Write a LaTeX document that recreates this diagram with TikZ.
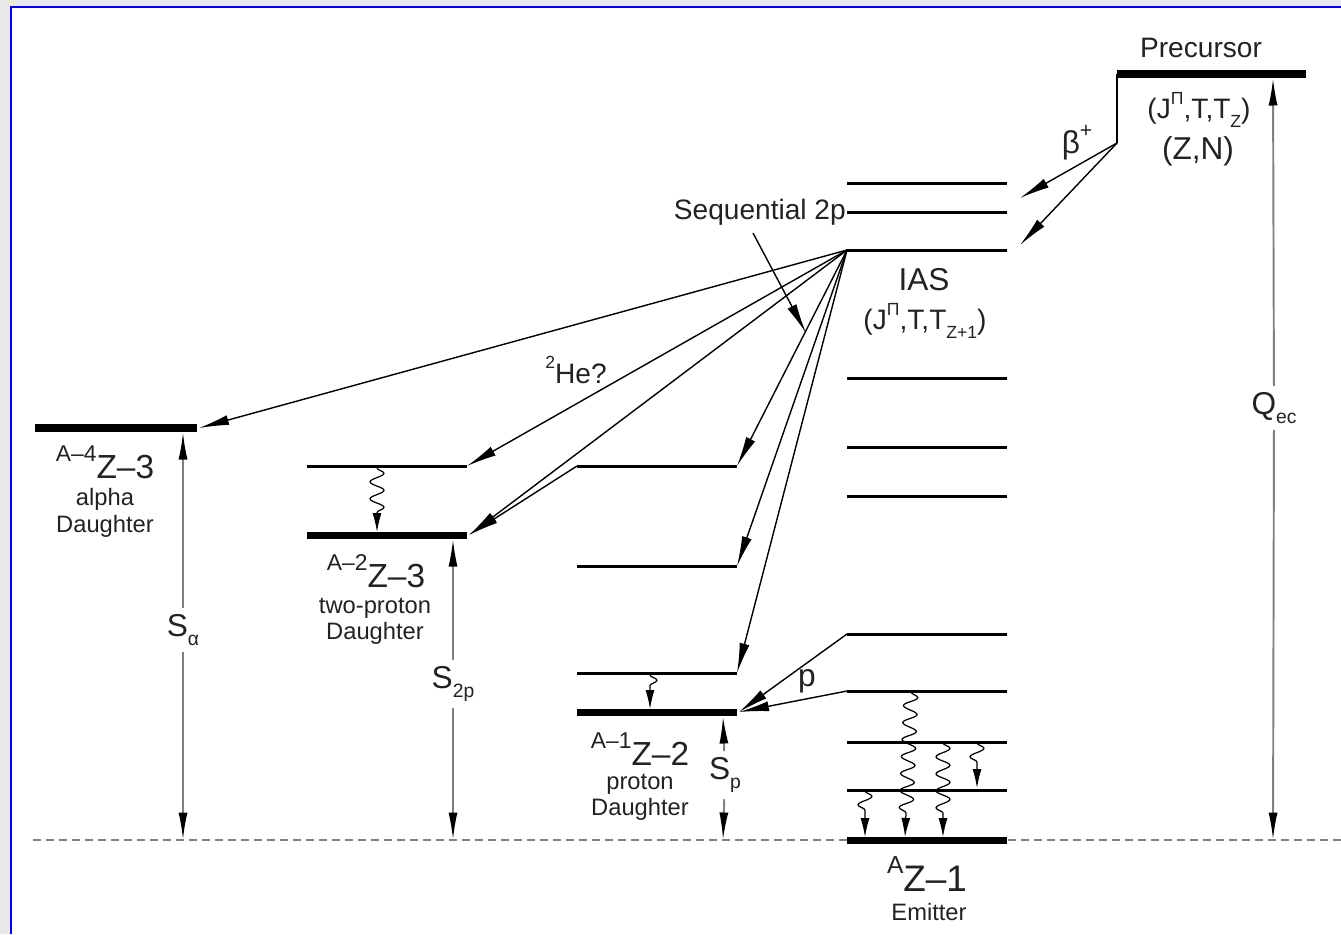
\documentclass[tikz,border=0pt]{standalone}
\usepackage{fontspec}
\setmainfont{Liberation Sans}
\usetikzlibrary{arrows.meta,decorations.pathmorphing}
\definecolor{framebg}{HTML}{E8E8E8}
\definecolor{frameblue}{HTML}{0000EE}
\definecolor{sepgray}{HTML}{808080}
\definecolor{inkgray}{HTML}{222222}
\newcommand{\nsup}[2][11]{\raisebox{0.5em}{\fontsize{#1}{#1}\selectfont #2}}
\newcommand{\nsub}[2][11]{\raisebox{-0.3em}{\fontsize{#1}{#1}\selectfont #2}}
\tikzset{
  lvl/.style={line width=1.7pt},
  gnd/.style={line width=4pt},
  arr/.style={-{Latex[length=6mm,width=2mm]}, line width=0.8pt},
  gam/.style={-{Latex[length=3.8mm,width=1.8mm]}, line width=0.7pt, decorate,
    decoration={snake, amplitude=1.4mm, segment length=3.4mm, post length=3.8mm}},
  sep/.style={sepgray, line width=1.1pt, -{Latex[length=5.5mm,width=1.8mm,color=black]}},
  base/.style={sepgray, line width=1.1pt, dash pattern=on 1.6mm off 1mm},
  small/.style={font=\fontsize{13.5}{15}\selectfont, text=inkgray, align=center, inner sep=1pt},
  mid/.style={font=\fontsize{16}{18}\selectfont, text=inkgray},
  big/.style={font=\fontsize{18}{20}\selectfont, text=inkgray},
  nucl/.style={font=\fontsize{19}{21}\selectfont, text=inkgray, inner sep=1pt}
}
\begin{document}
\begin{tikzpicture}[x=0.02cm, y=-0.02cm]
  % Frame
  \useasboundingbox (0,0) rectangle (1341,934);
  \fill[framebg] (0,0) rectangle (1341,934);
  \fill[white] (11,7) rectangle (1341,934);
  \draw[frameblue, line width=1.2pt] (11,934) -- (11,7) -- (1341,7);

  % Coordinates
  \coordinate (IAS) at (847,250);
  \coordinate (PRE) at (1117,143);
  \coordinate (PRT) at (1117,74);
  \coordinate (BA) at (1020,198);
  \coordinate (BB) at (1020,245);
  \coordinate (AL) at (199,428);
  \coordinate (TA) at (467,466);
  \coordinate (TB) at (469,535);
  \coordinate (PL) at (577,466);
  \coordinate (PA) at (737,466);
  \coordinate (PB) at (737,566);
  \coordinate (PC) at (737,673);
  \coordinate (PD) at (739,712);
  \coordinate (EA) at (847,634);
  \coordinate (EB) at (847,691);
  \coordinate (SQ) at (753,233);
  \coordinate (SQT) at (806,333);
  \coordinate (SAT) at (183,432);
  \coordinate (SAB) at (183,840);
  \coordinate (STT) at (453,539);
  \coordinate (STB) at (453,840);
  \coordinate (SPT) at (723,716);
  \coordinate (SPB) at (723,840);
  \coordinate (QT) at (1273,78);
  \coordinate (QB) at (1273,840);
  \coordinate (GA) at (377,468);
  \coordinate (GAE) at (377,532);
  \coordinate (GB) at (650,675);
  \coordinate (GBE) at (650,709);
  \coordinate (GC) at (911,692);
  \coordinate (GCE) at (905,837);
  \coordinate (GD) at (943,743);
  \coordinate (GDE) at (943,837);
  \coordinate (GE) at (977,743);
  \coordinate (GEE) at (977,788);
  \coordinate (GF) at (865,791);
  \coordinate (GFE) at (865,837);

  % Levels
  \draw[base] (33,840) -- (1341,840);
  \draw[gnd] (35,428) -- (197,428);
  \draw[lvl] (307,466) -- (TA);
  \draw[gnd] (307,535) -- (467,535);
  \draw[lvl] (PL) -- (PA);
  \draw[lvl] (577,566) -- (PB);
  \draw[lvl] (577,673) -- (PC);
  \draw[gnd] (577,712) -- (737,712);
  \foreach \y in {183,212,250,378,447,496,634,691,742,790}
    \draw[lvl] (847,\y) -- (1007,\y);
  \draw[gnd] (847,840) -- (1007,840);
  \draw[gnd] (PRT) -- (1306,74);
  \draw[line width=0.8pt] (PRT) -- (PRE);

  % Decays
  \draw[arr] (PRE) -- (BA);
  \draw[arr] (PRE) -- (BB);
  \foreach \t in {AL,TA,TB,PA,PB,PC}
    \draw[arr] (IAS) -- (\t);
  \draw[arr] (PL) -- (TB);
  \draw[arr] (EA) -- (PD);
  \draw[arr] (EB) -- (PD);
  \draw[arr] (SQ) -- (SQT);
  \draw[gam] (GA) -- (GAE);
  \draw[gam] (GB) -- (GBE);
  \draw[gam] (GC) -- (GCE);
  \draw[gam] (GD) -- (GDE);
  \draw[gam] (GE) -- (GEE);
  \draw[gam] (GF) -- (GFE);

  % Labels
  \node[mid] (prec) at (1201,48) {Precursor};
  \node[mid] (precq) at (1199,110) {(J\nsup[10]{Π},T,T\nsub[10]{Z})};
  \node[big] (preczn) at (1198,151) {(Z,N)};
  \node[big] (beta) at (1077,143) {β\nsup[12]{+}};
  \node[big] (ias) at (924,280) {IAS};
  \node[mid] (iasq) at (925,321) {(J\nsup[10]{Π},T,T\nsub[10]{Z+1})};
  \node[mid, anchor=east] (seq) at (852,212) {Sequential 2p};
  \node[mid] (he) at (576,370) {\nsup[10]{2}He?};
  \node[big] (pp) at (807,681) {p};
  \node[nucl] (alnuc) at (105,462) {\nsup[13]{A--4}Z--3};
  \node[small] (altx) at (105,513) {alpha\\Daughter};
  \node[nucl] (tpnuc) at (376,571) {\nsup[13]{A--2}Z--3};
  \node[small] (tptx) at (375,621) {two-proton\\Daughter};
  \node[nucl] (pnuc) at (640,749) {\nsup[13]{A--1}Z--2};
  \node[small] (ptx) at (640,797) {proton\\Daughter};
  \node[nucl, font=\fontsize{21}{23}\selectfont] (emnuc) at (927,874) {\nsup[14]{A}Z--1};
  \node[small] (emtx) at (929,912) {Emitter};
  \node[big] (Sa) at (183,630) {S\nsub[11]{α}};
  \node[big] (Stp) at (453,684) {S\nsub[11]{2p}};
  \node[big] (Sp) at (725,775) {S\nsub[11]{p}};
  \node[big] (Qec) at (1274,408) {Q\nsub[11]{ec}};

  % Separation energies
  \draw[sep] (Sa) -- (SAT);
  \draw[sep] (Sa) -- (SAB);
  \draw[sep] (Stp) -- (STT);
  \draw[sep] (Stp) -- (STB);
  \draw[sep] (Sp) -- (SPT);
  \draw[sep] (Sp) -- (SPB);
  \draw[sep] (Qec) -- (QT);
  \draw[sep] (Qec) -- (QB);
\end{tikzpicture}
\end{document}
